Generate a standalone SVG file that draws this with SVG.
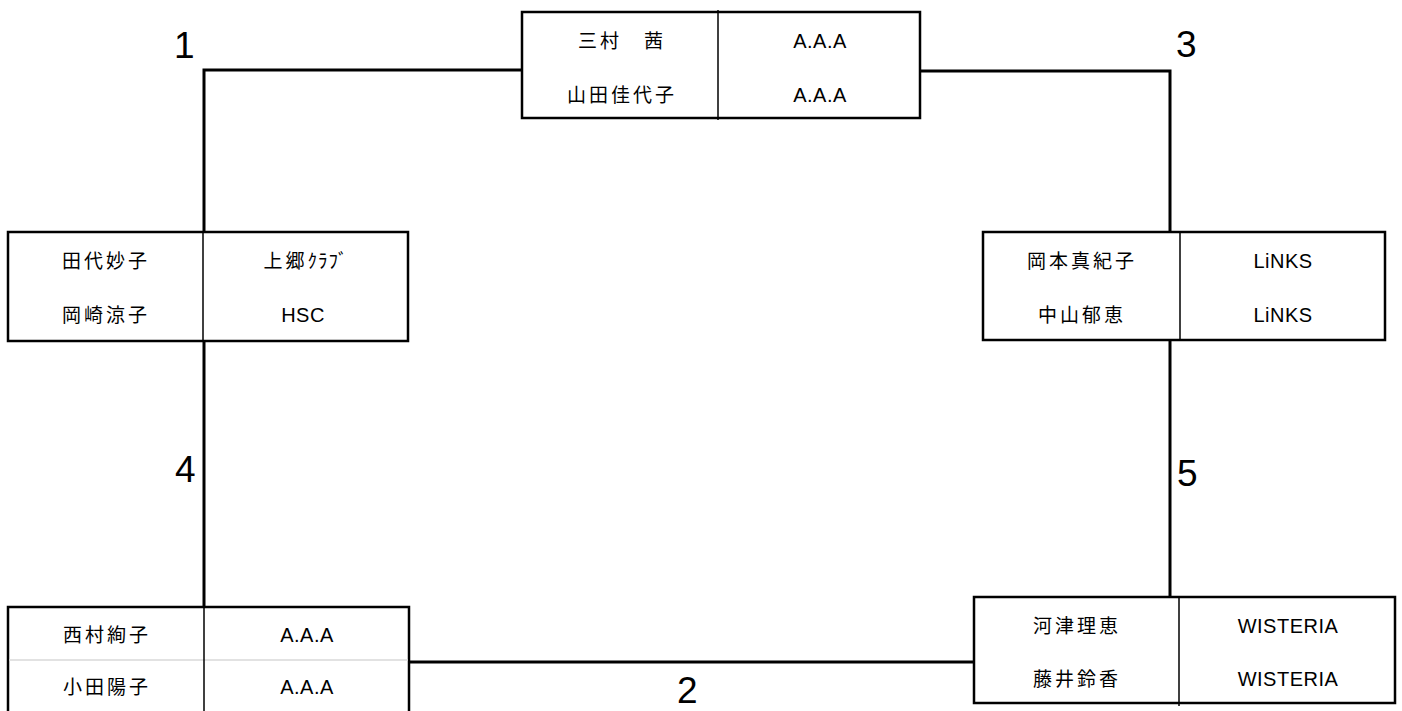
<svg xmlns="http://www.w3.org/2000/svg" width="1402" height="711" viewBox="0 0 1402 711">
<style>
  .bg { fill: #ffffff; }
  .box { fill: #ffffff; stroke: #000000; stroke-width: 2.5; }
  .div { stroke: #000000; stroke-width: 1.5; fill: none; }
  .sep { stroke: #d9d9d9; stroke-width: 1.5; fill: none; }
  .conn { stroke: #000000; stroke-width: 3; fill: none; }
  .cjk { font-family: "Liberation Sans", "Noto Sans CJK JP", sans-serif; font-size: 19px; letter-spacing: 3px; text-anchor: middle; fill: #000000; }
  .lat { font-family: "Liberation Sans", "Noto Sans CJK JP", sans-serif; font-size: 20px; letter-spacing: 0.5px; text-anchor: middle; fill: #000000; }
  .num { font-family: "Liberation Sans", Arial, sans-serif; font-size: 37px; fill: #000000; }
</style>
<rect class="bg" x="0" y="0" width="1402" height="711"/>

<g id="connectors">
  <path class="conn" d="M 522 70 H 204 V 232"/>
  <path class="conn" d="M 204 341 V 607"/>
  <path class="conn" d="M 921 71 H 1170 V 232"/>
  <path class="conn" d="M 1170 340 V 597"/>
  <path class="conn" d="M 409 662 H 974"/>
</g>

<g id="labels">
  <text class="num" x="174" y="58">1</text>
  <text class="num" x="1176" y="57">3</text>
  <text class="num" x="175" y="482">4</text>
  <text class="num" x="1177" y="486">5</text>
  <text class="num" x="677" y="703">2</text>
</g>

<g id="node-top">
  <rect class="box" x="522" y="12" width="398" height="106"/>
  <line class="div" x1="718" y1="10" x2="718" y2="120"/>
  <text class="cjk" x="622" y="48">三村　茜</text>
  <text class="lat" x="820" y="48">A.A.A</text>
  <text class="cjk" x="622" y="102">山田佳代子</text>
  <text class="lat" x="820" y="102">A.A.A</text>
</g>

<g id="node-left">
  <rect class="box" x="8" y="232" width="400" height="109"/>
  <line class="div" x1="203" y1="232" x2="203" y2="341"/>
  <text class="cjk" x="106" y="268">田代妙子</text>
  <text class="cjk" x="306" y="268">上郷<tspan letter-spacing="1px">ｸﾗﾌﾞ</tspan></text>
  <text class="cjk" x="106" y="322">岡崎涼子</text>
  <text class="lat" x="303" y="322">HSC</text>
</g>

<g id="node-right">
  <rect class="box" x="983" y="232" width="402" height="108"/>
  <line class="div" x1="1180" y1="232" x2="1180" y2="340"/>
  <text class="cjk" x="1082" y="268">岡本真紀子</text>
  <text class="lat" x="1283" y="268">LiNKS</text>
  <text class="cjk" x="1082" y="322">中山郁恵</text>
  <text class="lat" x="1283" y="322">LiNKS</text>
</g>

<g id="node-bottom-left">
  <rect class="box" x="8" y="607" width="401" height="110"/>
  <line class="sep" x1="9" y1="660" x2="408" y2="660"/>
  <line class="div" x1="204" y1="607" x2="204" y2="711"/>
  <text class="cjk" x="107" y="642">西村絢子</text>
  <text class="lat" x="307" y="642">A.A.A</text>
  <text class="cjk" x="107" y="694">小田陽子</text>
  <text class="lat" x="307" y="694">A.A.A</text>
</g>

<g id="node-bottom-right">
  <rect class="box" x="974" y="597" width="421" height="106"/>
  <line class="div" x1="1179" y1="597" x2="1179" y2="706"/>
  <text class="cjk" x="1077" y="633">河津理恵</text>
  <text class="lat" x="1288" y="633">WISTERIA</text>
  <text class="cjk" x="1077" y="686">藤井鈴香</text>
  <text class="lat" x="1288" y="686">WISTERIA</text>
</g>
</svg>
